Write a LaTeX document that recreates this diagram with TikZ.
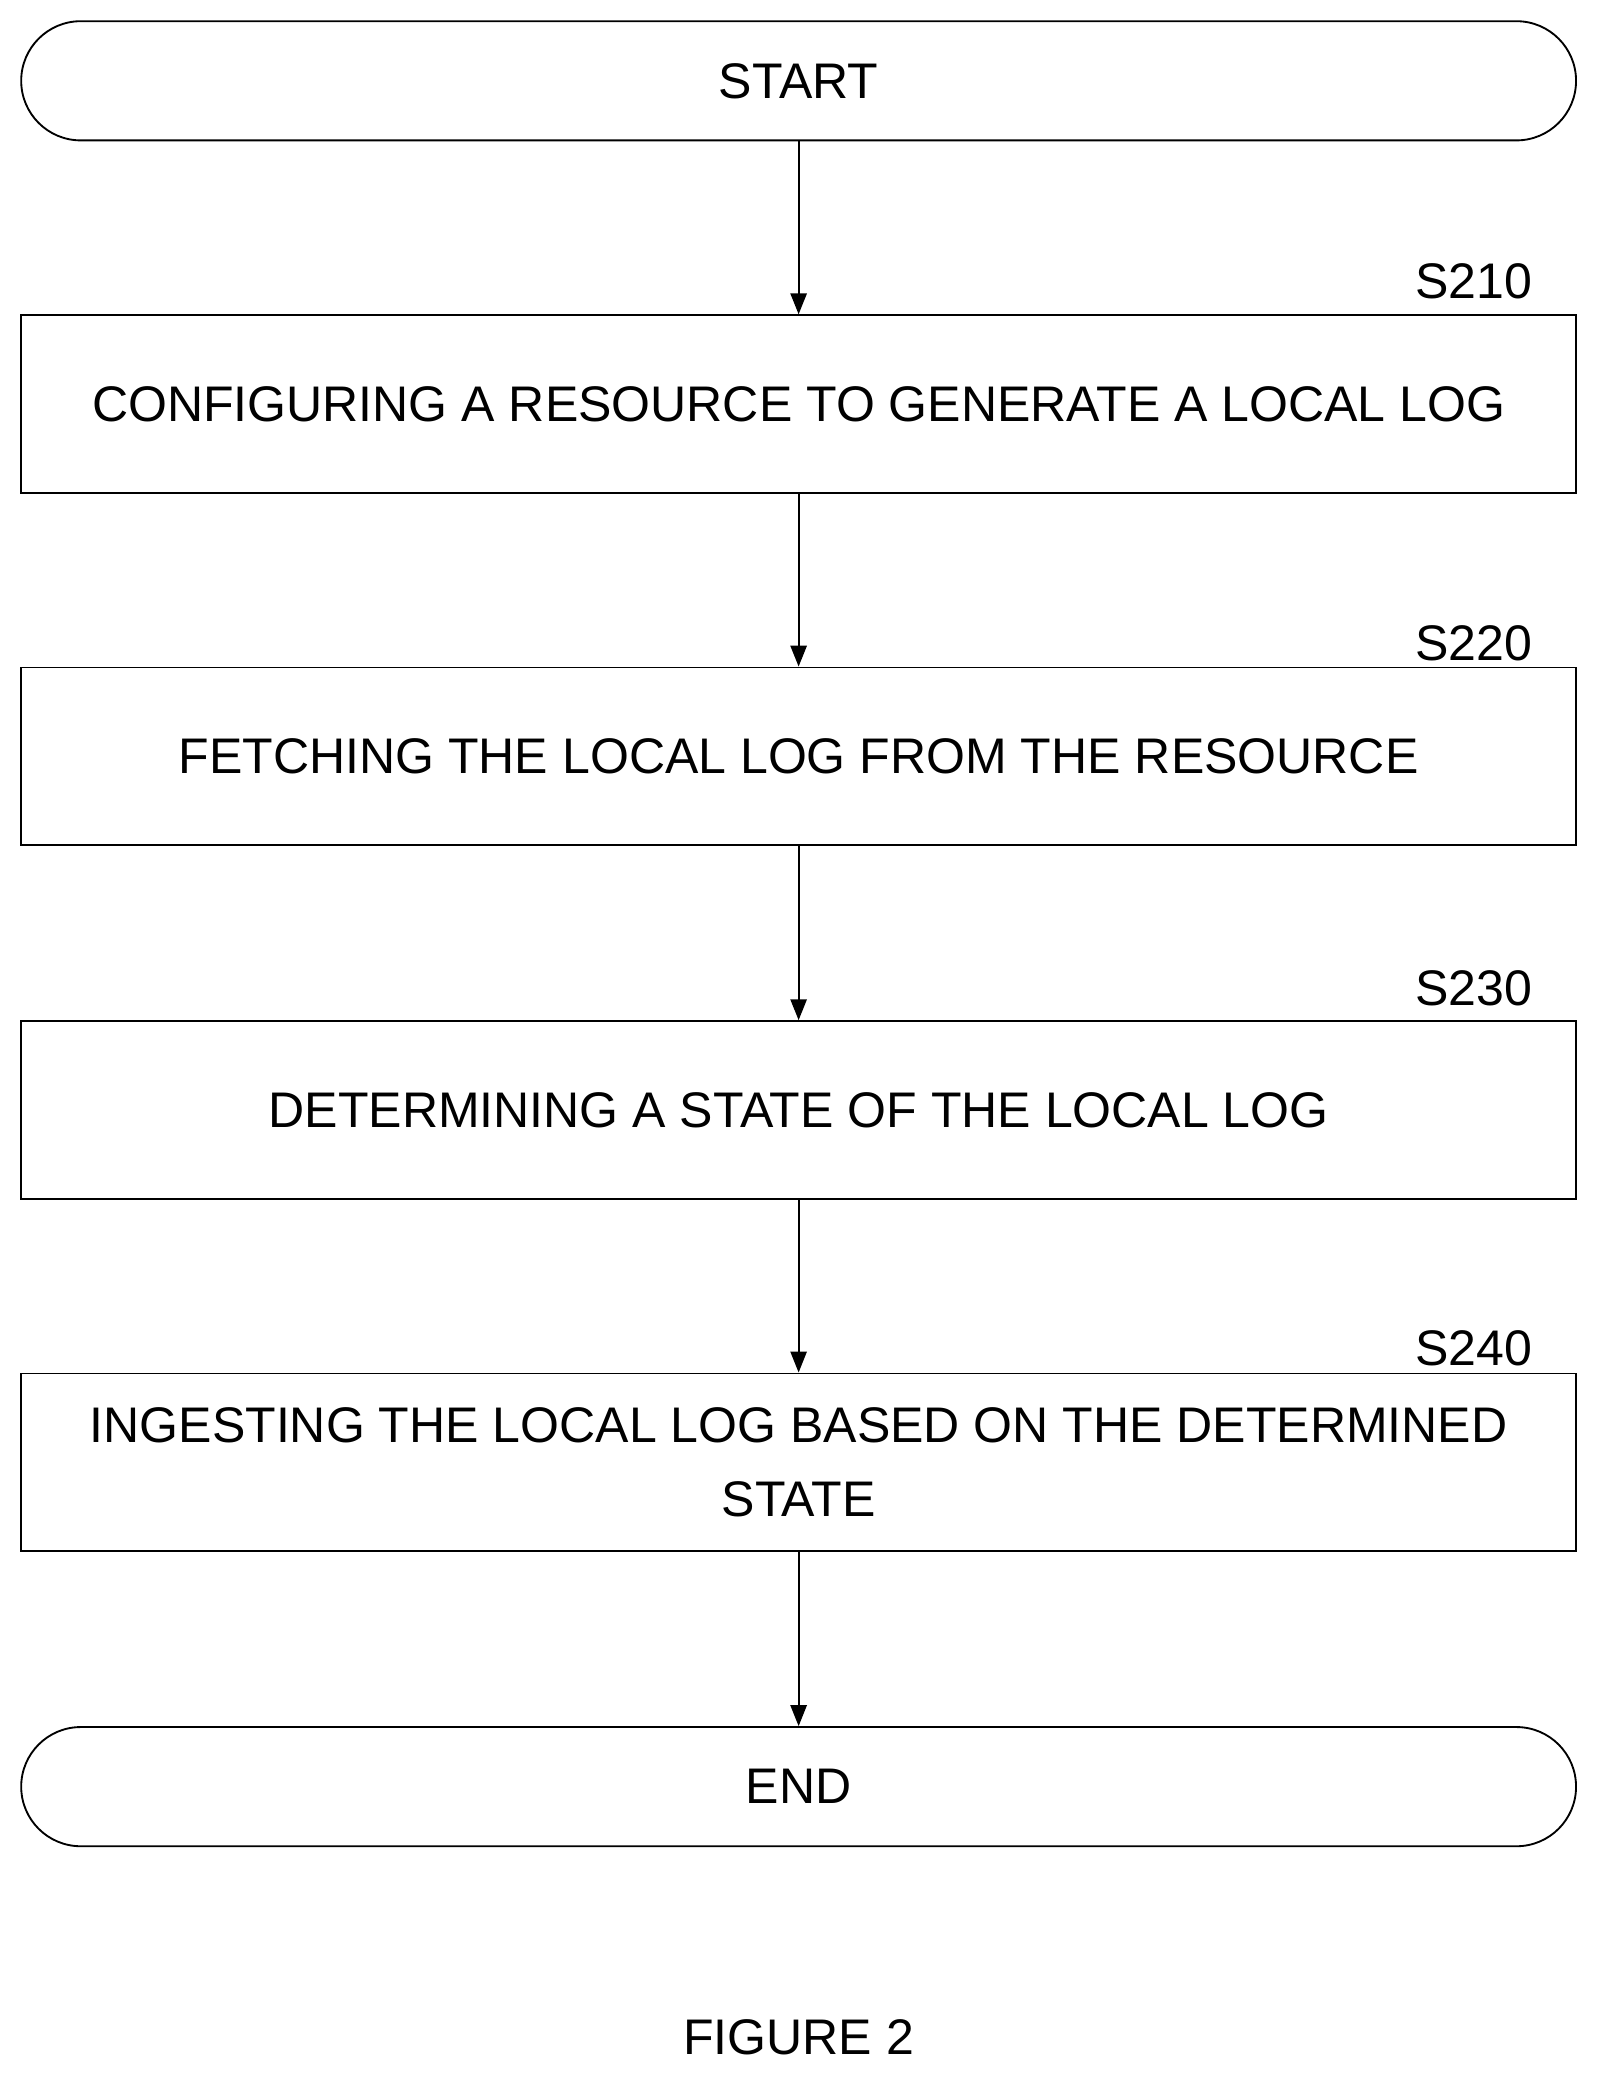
\documentclass[tikz,border=0pt]{standalone}
\usepackage{fontspec}
\setmainfont{Liberation Sans}
\usetikzlibrary{arrows.meta}

\tikzset{
  term/.style={draw=black, line width=0.8pt, rounded corners=45*0.02cm, minimum width=1174*0.02cm, minimum height=90*0.02cm, inner sep=0pt, font=\fontsize{21.5}{27}\selectfont},
  stepbox/.style={draw=black, line width=0.8pt, minimum width=1174*0.02cm, minimum height=134*0.02cm, inner sep=0pt, align=center, font=\fontsize{21.5}{27}\selectfont},
  lbl/.style={anchor=east, font=\fontsize{21.5}{27}\selectfont},
  flow/.style={-{Triangle[length=9pt,width=7pt]}, line width=0.8pt}
}

\begin{document}
\begin{tikzpicture}[x=0.02cm, y=-0.02cm]
            \useasboundingbox (0,0) rectangle (1208,1569);
            \node[term] (start) at (603, 61) {START};
            \node[stepbox] (s210) at (603, 305) {CONFIGURING A RESOURCE TO GENERATE A LOCAL LOG};
            \node[stepbox] (s220) at (603, 571) {FETCHING THE LOCAL LOG FROM THE RESOURCE};
            \node[stepbox] (s230) at (603, 838) {DETERMINING A STATE OF THE LOCAL LOG};
            \node[stepbox] (s240) at (603, 1104) {INGESTING THE LOCAL LOG BASED ON THE DETERMINED\\[5pt]STATE};
            \node[term] (end) at (603, 1349) {END};

            \node[lbl] at (1163, 212) {S210};
            \node[lbl] at (1163, 486) {S220};
            \node[lbl] at (1163, 746) {S230};
            \node[lbl] at (1163, 1018) {S240};

            \draw[flow] (start) -- (s210);
            \draw[flow] (s210) -- (s220);
            \draw[flow] (s220) -- (s230);
            \draw[flow] (s230) -- (s240);
            \draw[flow] (s240) -- (end);

            \node[font=\fontsize{21.5}{27}\selectfont] (fig) at (603, 1538) {FIGURE 2};
        \end{tikzpicture}
\end{document}
